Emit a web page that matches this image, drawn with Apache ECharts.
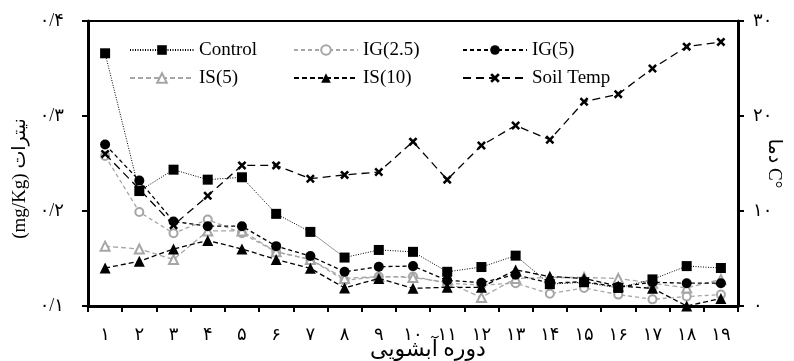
<!DOCTYPE html>
<html>
<head>
<meta charset="utf-8">
<script src="https://cdn.jsdelivr.net/npm/echarts@6/dist/echarts.min.js"></script>
<style>
html,body{margin:0;padding:0;background:#fff;}
#c{width:794px;height:361px;}
</style>
</head>
<body>
<div id="c"></div>
<script>
// ---- data ----
const categories = ['۱','۲','۳','۴','۵','۶','۷','۸','۹','۱۰','۱۱','۱۲','۱۳','۱۴','۱۵','۱۶','۱۷','۱۸','۱۹'];
const control = [0.366, 0.221, 0.2435, 0.233, 0.2355, 0.197, 0.178, 0.151, 0.159, 0.157, 0.136, 0.141, 0.153, 0.123, 0.125, 0.119, 0.128, 0.142, 0.140];
const ig25 = [0.258, 0.199, 0.1765, 0.191, 0.1765, 0.157, 0.149, 0.127, 0.131, 0.131, 0.124, 0.122, 0.124, 0.113, 0.119, 0.112, 0.107, 0.110, 0.112];
const ig5 = [0.270, 0.232, 0.189, 0.184, 0.184, 0.163, 0.1526, 0.136, 0.1414, 0.142, 0.127, 0.1245, 0.133, 0.124, 0.1256, 0.120, 0.125, 0.124, 0.124];
const is5 = [0.163, 0.160, 0.149, 0.179, 0.179, 0.157, 0.149, 0.129, 0.131, 0.130, 0.125, 0.109, 0.129, 0.130, 0.130, 0.129, 0.124, 0.119, 0.128];
const is10 = [0.140, 0.147, 0.160, 0.169, 0.160, 0.149, 0.1397, 0.119, 0.129, 0.1186, 0.1197, 0.1197, 0.138, 0.131, 0.129, 0.121, 0.1186, 0.100, 0.108];
const soilTemp = [16.0, 12.3, 8.5, 11.6, 14.8, 14.8, 13.4, 13.8, 14.1, 17.3, 13.3, 16.9, 19.0, 17.5, 21.5, 22.3, 25.0, 27.3, 27.8];
const seriesNames = ['Control', 'IG(2.5)', 'IG(5)', 'IS(5)', 'IS(10)', 'Soil Temp'];
const leftAxisName = '(mg/Kg) نیترات';
const rightAxisName = 'دما C°';
const xAxisName = 'دوره آبشویی';

// ---- helpers ----
const faDigits = ['۰','۱','۲','۳','۴','۵','۶','۷','۸','۹'];
function toFa(s){ return String(s).replace(/[0-9]/g, d => faDigits[+d]).replace('.', '/'); }

const FONT = "'Liberation Serif', 'DejaVu Sans', serif";
const GRAY = '#a6a6a6';
const crossPath = 'path://M2,0 L5,3 L8,0 L10,2 L7,5 L10,8 L8,10 L5,7 L2,10 L0,8 L3,5 L0,2 Z';

const chart = echarts.init(document.getElementById('c'), null, {renderer: 'canvas'});

const legendCommon = {
  orient: 'vertical',
  itemWidth: 64,
  itemHeight: 12,
  itemGap: 8,
  textStyle: {fontFamily: FONT, fontSize: 19, color: '#000', lineHeight: 20},
  selectedMode: false
};

const option = {
  animation: false,
  backgroundColor: '#fff',
  grid: {left: 88, right: 56, top: 21, bottom: 55, show: true, borderColor: '#000', borderWidth: 2, containLabel: false, outerBoundsMode: 'none'},
  legend: [
    Object.assign({left: 124, top: 35, data: [seriesNames[0], seriesNames[3]]}, legendCommon),
    Object.assign({left: 288, top: 35, data: [seriesNames[1], seriesNames[4]]}, legendCommon),
    Object.assign({left: 457, top: 35, data: [seriesNames[2], seriesNames[5]]}, legendCommon)
  ],
  xAxis: {
    type: 'category',
    data: categories,
    boundaryGap: true,
    name: xAxisName,
    nameLocation: 'middle',
    nameGap: 33,
    nameMoveOverlap: false,
    nameTextStyle: {fontFamily: FONT, fontSize: 22, color: '#000', padding: [0, 0, 0, 30]},
    axisLine: {lineStyle: {color: '#000', width: 3}},
    axisTick: {show: true, length: 6, lineStyle: {color: '#000', width: 2}},
    axisLabel: {fontFamily: FONT, fontSize: 18, color: '#000', margin: 20, interval: 0},
    splitLine: {show: false}
  },
  yAxis: [
    {
      type: 'value', min: 0.1, max: 0.4, interval: 0.1, position: 'left',
      name: leftAxisName, nameLocation: 'middle', nameGap: 58, nameRotate: 90,
      nameMoveOverlap: false,
      nameTextStyle: {fontFamily: FONT, fontSize: 19, color: '#000', padding: [0, 30, 0, 0]},
      axisLine: {show: true, lineStyle: {color: '#000', width: 3}},
      axisTick: {show: true, length: 6, lineStyle: {color: '#000', width: 2}},
      axisLabel: {fontFamily: FONT, fontSize: 18, color: '#000', margin: 24, formatter: v => toFa(v.toFixed(1))},
      splitLine: {show: false}
    },
    {
      type: 'value', min: 0, max: 30, interval: 10, position: 'right',
      name: rightAxisName, nameLocation: 'middle', nameGap: 26, nameRotate: -90,
      nameMoveOverlap: false,
      nameTextStyle: {fontFamily: FONT, fontSize: 19, color: '#000'},
      axisLine: {show: true, lineStyle: {color: '#000', width: 3}},
      axisTick: {show: true, length: 6, lineStyle: {color: '#000', width: 2}},
      axisLabel: {fontFamily: FONT, fontSize: 18, color: '#000', margin: 15, formatter: v => toFa(v)},
      splitLine: {show: false}
    }
  ],
  series: [
    {
      name: seriesNames[1], type: 'line', data: ig25, yAxisIndex: 0, z: 2,
      symbol: 'circle', symbolSize: 8, showAllSymbol: true,
      itemStyle: {color: '#fff', borderColor: GRAY, borderWidth: 2},
      lineStyle: {color: GRAY, width: 1.3, type: [4, 3]}
    },
    {
      name: seriesNames[3], type: 'line', data: is5, yAxisIndex: 0, z: 2,
      symbol: 'triangle', symbolSize: 9, showAllSymbol: true,
      itemStyle: {color: '#fff', borderColor: GRAY, borderWidth: 2},
      lineStyle: {color: GRAY, width: 1.3, type: [5, 3]}
    },
    {
      name: seriesNames[5], type: 'line', data: soilTemp, yAxisIndex: 1, z: 3,
      symbol: crossPath, symbolSize: 9, showAllSymbol: true,
      itemStyle: {color: '#000'},
      lineStyle: {color: '#000', width: 1.3, type: [8, 5]}
    },
    {
      name: seriesNames[4], type: 'line', data: is10, yAxisIndex: 0, z: 4,
      symbol: 'triangle', symbolSize: 11, showAllSymbol: true,
      itemStyle: {color: '#000'},
      lineStyle: {color: '#000', width: 1.3, type: [5, 3]}
    },
    {
      name: seriesNames[2], type: 'line', data: ig5, yAxisIndex: 0, z: 4,
      symbol: 'circle', symbolSize: 10, showAllSymbol: true,
      itemStyle: {color: '#000'},
      lineStyle: {color: '#000', width: 1.3, type: [4, 3]}
    },
    {
      name: seriesNames[0], type: 'line', data: control, yAxisIndex: 0, z: 5,
      symbol: 'rect', symbolSize: 10, showAllSymbol: true,
      itemStyle: {color: '#000'},
      lineStyle: {color: '#000', width: 1, type: [1, 1.5]}
    }
  ]
};
chart.setOption(option);
</script>
</body>
</html>
